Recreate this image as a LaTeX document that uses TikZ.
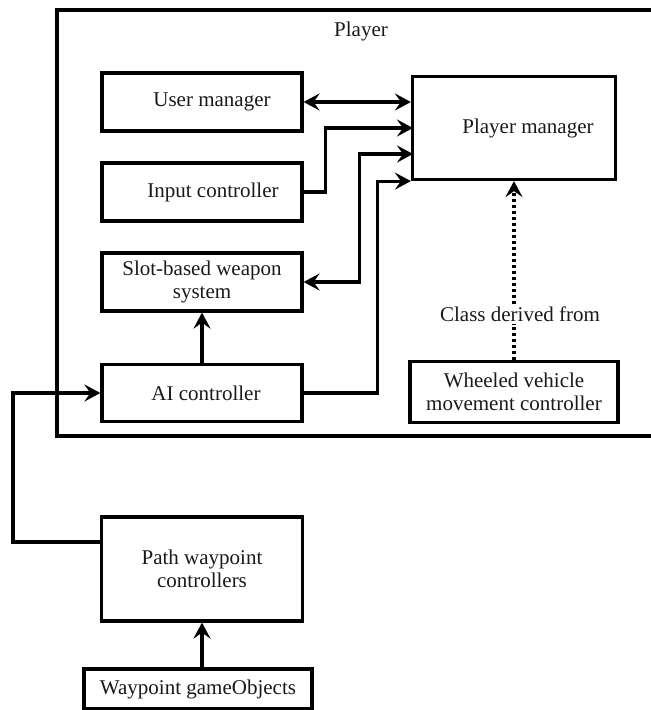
\documentclass[tikz,border=0pt]{standalone}
\usepackage{fontspec}
\setmainfont{Liberation Serif}
\usetikzlibrary{arrows.meta}

\tikzset{
  box/.style={draw, line width=3.2pt, minimum width=200pt, align=center,
    font=\fontsize{21}{23}\selectfont, text=black!90},
  link/.style={line width=3.2pt, -{Stealth[length=16pt,width=17pt,inset=6pt]}},
  dlink/.style={line width=3.2pt, {Stealth[length=16pt,width=17pt,inset=6pt]}-{Stealth[length=16pt,width=17pt,inset=6pt]}}
}

\begin{document}
\begin{tikzpicture}[x=1pt,y=-1pt]

\useasboundingbox (0,0) rectangle (651,710);

% the Player frame, open to the right
\draw [line width=3.2pt] (651,10) -- (57,10) -- (57,436) -- (651,436);
\node [font=\fontsize{21}{23}\selectfont, text=black!90] (player) at (361,31) {Player};

\coordinate (A) at (202,102);
\coordinate (B) at (202,192);
\coordinate (C) at (202,282);
\coordinate (D) at (202,393);
\coordinate (E) at (514,128);
\coordinate (F) at (514,392);
\coordinate (G) at (202,569);
\coordinate (H) at (198,689);

\node [box, minimum height=58pt] (um) at (A) {\hspace*{20pt}User manager};
\node [box, minimum height=58pt] (ic) at (B) {\hspace*{22pt}Input controller};
\node [box, minimum height=58pt] (sw) at (C) {Slot-based weapon\\system};
\node [box, minimum height=57pt] (ai) at (D) {\hspace*{8pt}AI controller};
\node [box, minimum width=203pt, minimum height=103pt] (pm) at (E) {\hspace*{28pt}Player manager};
\node [box, minimum width=208pt, minimum height=61pt] (wv) at (F) {Wheeled vehicle\\movement controller};
\node [box, minimum width=201pt, minimum height=104pt] (pw) at (G) {Path waypoint\\controllers};
\node [box, minimum width=228pt, minimum height=40pt] (wg) at (H) {Waypoint gameObjects};
\node [font=\fontsize{21}{23}\selectfont, text=black!90, inner sep=2pt] (cd) at (520,314) {Class derived from};

\coordinate (inA) at (413,128);
\coordinate (inB) at (413,154);
\coordinate (left) at (13,542);

\draw [dlink] (um.east) -- (um.east -| pm.west);
\draw [link] (ic.east) -- ++(22,0) |- (inA);
\draw [dlink] (sw.east) -- ++(56,0) |- (inB);
\draw [link] (ai.east) -- ++(74,0) |- (pm.south west);
\draw [link] (ai.north) -- (sw.south);
\draw [line width=3.2pt, dash pattern=on 3pt off 3pt] (wv.north) -- (wv.north |- cd.south);
\draw [link, dash pattern=on 3pt off 3pt] (pm.south |- cd.north) -- (pm.south);
\draw [link] (pw.west |- left) -- (left) |- (ai.west);
\draw [link] (wg.north -| pw.south) -- (pw.south);

\end{tikzpicture}
\end{document}
